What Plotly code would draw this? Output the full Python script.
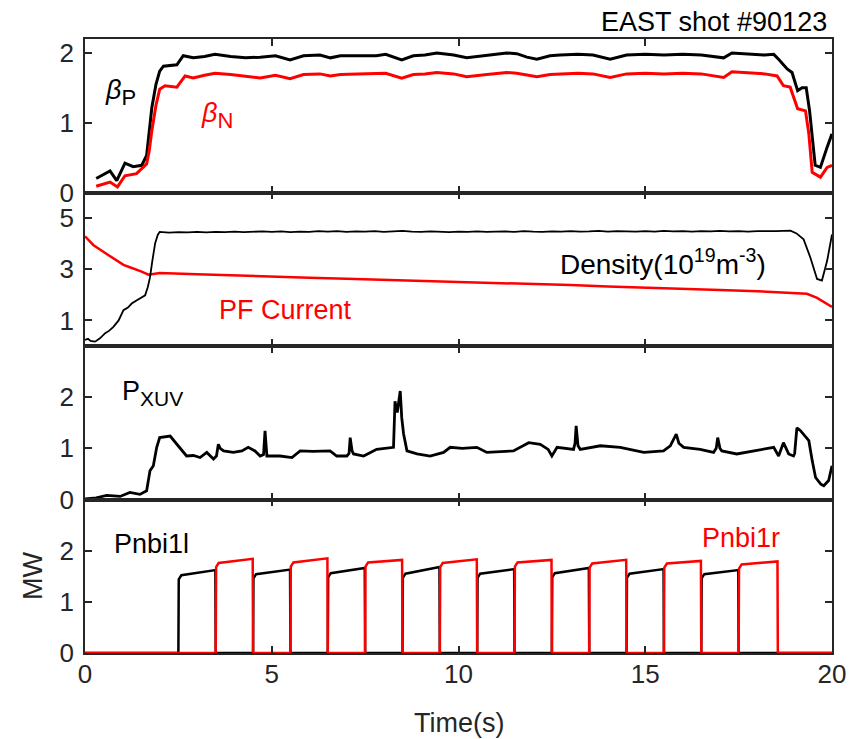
import plotly.graph_objects as go
from plotly.subplots import make_subplots

# ---------------- data ----------------
# poloidal beta (time s, value)
beta_p_pts = [
    (0.30, 0.20), (0.50, 0.26), (0.67, 0.31), (0.85, 0.17), (1.07, 0.42), (1.29, 0.37),
    (1.52, 0.39), (1.65, 0.53), (1.72, 0.85), (1.79, 1.22), (1.90, 1.55), (2.00, 1.74),
    (2.10, 1.81), (2.46, 1.83), (2.63, 1.96), (2.90, 1.93), (3.20, 1.95), (3.48, 1.98),
    (3.90, 1.95), (4.30, 1.93), (4.69, 1.94), (5.10, 1.96), (5.49, 1.90), (5.85, 1.96),
    (6.29, 1.97), (6.57, 1.93), (6.84, 1.96), (7.30, 1.96), (7.80, 1.96), (8.05, 1.98),
    (8.48, 1.90), (8.79, 1.96), (9.10, 1.97), (9.42, 2.00), (9.87, 1.97), (10.22, 1.93),
    (10.76, 1.96), (11.29, 2.00), (11.56, 1.99), (11.83, 1.94), (12.10, 1.91), (12.45, 1.96),
    (12.72, 1.97), (13.20, 1.98), (13.60, 1.97), (14.06, 1.91), (14.50, 1.97), (15.00, 1.98),
    (15.50, 1.97), (16.00, 1.98), (16.50, 1.97), (17.10, 1.93), (17.32, 2.00), (17.80, 1.98),
    (18.20, 1.97), (18.44, 1.98), (18.57, 1.91), (18.80, 1.77), (18.93, 1.72), (19.08, 1.46),
    (19.20, 1.50), (19.31, 1.50), (19.40, 1.17), (19.55, 0.39), (19.69, 0.36), (19.87, 0.65),
    (20.00, 0.84),
]
# normalized beta
beta_n_pts = [
    (0.30, 0.09), (0.50, 0.12), (0.67, 0.15), (0.87, 0.08), (1.07, 0.24), (1.38, 0.27),
    (1.65, 0.41), (1.72, 0.60), (1.79, 0.89), (1.90, 1.25), (2.00, 1.48), (2.14, 1.53),
    (2.46, 1.51), (2.68, 1.67), (2.90, 1.64), (3.20, 1.68), (3.48, 1.71), (3.90, 1.69),
    (4.30, 1.67), (4.69, 1.64), (5.10, 1.68), (5.49, 1.63), (5.85, 1.69), (6.29, 1.70),
    (6.57, 1.67), (6.84, 1.69), (7.30, 1.70), (7.80, 1.70), (8.05, 1.71), (8.48, 1.64),
    (8.79, 1.69), (9.10, 1.70), (9.42, 1.72), (9.87, 1.70), (10.22, 1.66), (10.76, 1.69),
    (11.29, 1.72), (11.56, 1.71), (11.83, 1.68), (12.10, 1.66), (12.45, 1.69), (12.72, 1.70),
    (13.20, 1.71), (13.60, 1.70), (14.06, 1.65), (14.50, 1.70), (15.00, 1.71), (15.50, 1.70),
    (16.00, 1.71), (16.50, 1.70), (17.10, 1.65), (17.32, 1.73), (17.80, 1.71), (18.20, 1.70),
    (18.53, 1.67), (18.70, 1.53), (18.88, 1.51), (19.08, 1.20), (19.29, 1.17), (19.38, 0.84),
    (19.47, 0.29), (19.69, 0.22), (19.87, 0.36), (20.00, 0.39),
]
# line-averaged density, 1e19 m^-3
density_pts = [
    (0.00, 0.24), (0.08, 0.28), (0.15, 0.20), (0.27, 0.17), (0.40, 0.30), (0.54, 0.50),
    (0.65, 0.60), (0.76, 0.75), (0.90, 1.00), (1.03, 1.40), (1.15, 1.50), (1.25, 1.66),
    (1.40, 1.80), (1.52, 1.91), (1.61, 1.98), (1.68, 2.30), (1.74, 2.68), (1.80, 3.30),
    (1.88, 4.03), (1.95, 4.35), (2.00, 4.46), (2.25, 4.43), (2.50, 4.45), (2.75, 4.44),
    (3.00, 4.46), (3.25, 4.44), (3.50, 4.46), (3.75, 4.45), (4.00, 4.47), (4.25, 4.45),
    (4.50, 4.46), (4.75, 4.48), (5.00, 4.46), (5.25, 4.48), (5.50, 4.45), (5.75, 4.47),
    (6.00, 4.46), (6.25, 4.49), (6.50, 4.47), (6.75, 4.49), (7.00, 4.46), (7.25, 4.48),
    (7.50, 4.47), (7.75, 4.49), (8.00, 4.46), (8.25, 4.48), (8.50, 4.50), (8.75, 4.47),
    (9.00, 4.46), (9.25, 4.48), (9.50, 4.47), (9.75, 4.45), (10.00, 4.47), (10.25, 4.46),
    (10.50, 4.48), (10.75, 4.46), (11.00, 4.47), (11.25, 4.48), (11.50, 4.46), (11.75, 4.49),
    (12.00, 4.47), (12.25, 4.46), (12.50, 4.48), (12.75, 4.47), (13.00, 4.49), (13.25, 4.47),
    (13.50, 4.48), (13.75, 4.50), (14.00, 4.47), (14.25, 4.49), (14.50, 4.48), (14.75, 4.47),
    (15.00, 4.49), (15.25, 4.47), (15.50, 4.50), (15.75, 4.48), (16.00, 4.49), (16.25, 4.47),
    (16.50, 4.49), (16.75, 4.48), (17.00, 4.50), (17.25, 4.48), (17.50, 4.49), (17.75, 4.47),
    (18.00, 4.49), (18.25, 4.48), (18.50, 4.49), (18.89, 4.51), (19.05, 4.40), (19.24, 4.17),
    (19.42, 3.46), (19.60, 2.62), (19.73, 2.56), (19.87, 3.33), (20.00, 4.36),
]
# poloidal field coil current (same axis)
pf_current_pts = [
    (0.00, 4.29), (0.22, 3.95), (0.45, 3.72), (0.67, 3.52), (0.85, 3.35), (1.03, 3.17),
    (1.20, 3.08), (1.34, 3.01), (1.50, 2.92), (1.70, 2.79), (1.85, 2.83), (2.00, 2.85),
    (3.00, 2.80), (4.00, 2.75), (5.00, 2.71), (6.00, 2.67), (7.00, 2.63), (8.00, 2.59),
    (9.00, 2.56), (10.00, 2.52), (11.00, 2.48), (12.00, 2.43), (13.00, 2.38), (14.00, 2.33),
    (15.00, 2.29), (16.00, 2.24), (17.00, 2.19), (18.00, 2.14), (19.00, 2.08), (19.33, 2.04),
    (19.60, 1.88), (19.80, 1.70), (20.00, 1.53),
]
# XUV radiated power, MW
pxuv_pts = [
    (0.00, 0.01), (0.30, 0.03), (0.58, 0.08), (0.94, 0.06), (1.20, 0.14), (1.47, 0.10),
    (1.65, 0.17), (1.74, 0.56), (1.83, 0.66), (1.92, 1.02), (2.00, 1.21), (2.28, 1.24),
    (2.46, 1.08), (2.60, 0.95), (2.72, 0.85), (2.90, 0.86), (3.08, 0.82), (3.26, 0.92),
    (3.44, 0.79), (3.52, 0.85), (3.57, 1.08), (3.62, 1.00), (3.71, 0.95), (3.97, 0.92),
    (4.20, 0.95), (4.37, 1.02), (4.55, 0.95), (4.69, 0.85), (4.78, 0.88), (4.82, 1.34),
    (4.87, 0.85), (5.22, 0.85), (5.54, 0.82), (5.76, 0.95), (6.10, 0.94), (6.56, 0.95),
    (6.74, 0.85), (7.01, 0.85), (7.07, 0.90), (7.10, 1.21), (7.15, 0.95), (7.19, 0.89),
    (7.46, 0.85), (7.81, 0.98), (8.05, 1.00), (8.26, 1.02), (8.30, 1.92), (8.36, 1.70),
    (8.44, 2.12), (8.48, 1.60), (8.53, 1.28), (8.62, 0.95), (8.89, 0.89), (9.24, 0.85),
    (9.60, 0.92), (9.78, 1.02), (10.10, 1.00), (10.49, 1.02), (10.76, 0.92), (11.10, 0.93),
    (11.47, 0.95), (11.88, 1.11), (12.19, 1.08), (12.40, 0.98), (12.50, 0.85), (12.64, 1.02),
    (13.08, 0.98), (13.12, 1.10), (13.15, 1.44), (13.20, 1.05), (13.26, 0.98), (13.80, 1.05),
    (14.33, 1.02), (14.96, 0.92), (15.49, 0.95), (15.67, 1.05), (15.83, 1.28), (15.90, 1.10),
    (16.03, 1.02), (16.47, 0.98), (16.83, 0.92), (16.90, 1.00), (16.94, 1.21), (17.00, 1.00),
    (17.05, 0.95), (17.45, 0.89), (17.90, 0.95), (18.20, 0.98), (18.44, 1.02), (18.57, 0.85),
    (18.70, 1.11), (18.84, 0.89), (18.97, 0.85), (19.00, 0.90), (19.06, 1.40), (19.15, 1.35),
    (19.24, 1.28), (19.38, 1.15), (19.47, 0.76), (19.56, 0.43), (19.70, 0.30), (19.78, 0.27),
    (19.91, 0.37), (20.00, 0.66),
]
# neutral beam pulses: on/off times (s) and power at pulse start / end (MW)
nbi_l_on = [2.5, 4.5, 6.5, 8.5, 10.5, 12.5, 14.5, 16.5]
nbi_l_off = [3.5, 5.5, 7.5, 9.5, 11.5, 13.5, 15.5, 17.5]
nbi_l_p0 = [1.52, 1.54, 1.56, 1.55, 1.55, 1.56, 1.55, 1.54]
nbi_l_p1 = [1.62, 1.63, 1.66, 1.68, 1.64, 1.66, 1.64, 1.62]

nbi_r_on = [3.5, 5.5, 7.5, 9.5, 11.5, 13.5, 15.5, 17.5]
nbi_r_off = [4.5, 6.5, 8.5, 10.5, 12.5, 14.5, 16.5, 18.55]
nbi_r_p0 = [1.76, 1.77, 1.77, 1.76, 1.77, 1.75, 1.75, 1.73]
nbi_r_p1 = [1.84, 1.85, 1.82, 1.83, 1.82, 1.82, 1.80, 1.79]

x_ticks = [0, 5, 10, 15, 20]


def unzip(pts):
    return [p[0] for p in pts], [p[1] for p in pts]


def pulse_train(on, off, p0, p1, t_end=20.0):
    """Square-ish beam waveform from switch times and power levels."""
    t, v = [0.0], [0.0]
    for a, b, s, e in zip(on, off, p0, p1):
        t += [a, a + 0.01, a + 0.08, b - 0.01, b]
        v += [0.0, s - 0.08, s, e, 0.0]
    t.append(t_end)
    v.append(0.0)
    return t, v


BLACK = "#000000"
RED = "#ff0000"
AXC = "#262626"
FONT = "Liberation Sans, Arial, sans-serif"

fig = make_subplots(rows=4, cols=1, shared_xaxes=True, vertical_spacing=0)

t, v = unzip(beta_p_pts)
fig.add_trace(go.Scatter(x=t, y=v, mode="lines", line=dict(color=BLACK, width=3)), row=1, col=1)
t, v = unzip(beta_n_pts)
fig.add_trace(go.Scatter(x=t, y=v, mode="lines", line=dict(color=RED, width=3)), row=1, col=1)

t, v = unzip(pf_current_pts)
fig.add_trace(go.Scatter(x=t, y=v, mode="lines", line=dict(color=RED, width=2.5)), row=2, col=1)
t, v = unzip(density_pts)
fig.add_trace(go.Scatter(x=t, y=v, mode="lines", line=dict(color=BLACK, width=1.8)), row=2, col=1)

t, v = unzip(pxuv_pts)
fig.add_trace(go.Scatter(x=t, y=v, mode="lines", line=dict(color=BLACK, width=2.8)), row=3, col=1)

t, v = pulse_train(nbi_l_on, nbi_l_off, nbi_l_p0, nbi_l_p1)
fig.add_trace(go.Scatter(x=t, y=v, mode="lines", line=dict(color=BLACK, width=2.5)), row=4, col=1)
t, v = pulse_train(nbi_r_on, nbi_r_off, nbi_r_p0, nbi_r_p1)
fig.add_trace(go.Scatter(x=t, y=v, mode="lines", line=dict(color=RED, width=2.5)), row=4, col=1)

axis_common = dict(
    showline=True, linecolor=AXC, linewidth=1.8, mirror="ticks",
    ticks="inside", ticklen=7, tickwidth=1.5, tickcolor=AXC,
    showgrid=False, zeroline=False,
    tickfont=dict(family=FONT, size=26, color=AXC),
)
for r in range(1, 5):
    fig.update_xaxes(range=[0, 20], tickvals=x_ticks, showticklabels=(r == 4),
                     ticklabelstandoff=-3, **axis_common, row=r, col=1)

fig.update_yaxes(range=[0, 2.2], tickvals=[0, 1, 2], ticklabelstandoff=4, **axis_common, row=1, col=1)
fig.update_yaxes(range=[0, 6], tickvals=[1, 3, 5], ticklabelstandoff=4, **axis_common, row=2, col=1)
fig.update_yaxes(range=[0, 3], tickvals=[0, 1, 2], ticklabelstandoff=4, **axis_common, row=3, col=1)
fig.update_yaxes(range=[0, 3], tickvals=[0, 1, 2], ticklabelstandoff=4, **axis_common, row=4, col=1)

ann_font = dict(family=FONT, size=27)
annotations = [
    dict(xref="x", yref="y", x=0.94, y=1.43,
         text="<i>β</i><sub><span style='font-size:22px'>P</span></sub>",
         font=dict(ann_font, color=BLACK)),
    dict(xref="x", yref="y", x=3.54, y=1.10,
         text="<i>β</i><sub><span style='font-size:22px'>N</span></sub>",
         font=dict(ann_font, color=RED)),
    dict(xref="x2", yref="y2", x=15.48, y=3.29, text="Density(10<sup>19</sup>m<sup>-3</sup>)",
         font=dict(family=FONT, size=28, color=BLACK)),
    dict(xref="x2", yref="y2", x=5.36, y=1.40, text="PF Current",
         font=dict(ann_font, color=RED)),
    dict(xref="x3", yref="y3", x=1.80, y=2.08,
         text="P<sub><span style='font-size:21px'>XUV</span></sub>",
         font=dict(ann_font, color=BLACK)),
    dict(xref="x4", yref="y4", x=1.77, y=2.14, text="Pnbi1l",
         font=dict(ann_font, color=BLACK)),
    dict(xref="x4", yref="y4", x=17.57, y=2.24, text="Pnbi1r",
         font=dict(ann_font, color=RED)),
    dict(xref="paper", yref="paper", x=1, y=1, xanchor="right", yanchor="bottom",
         xshift=-3, text="EAST shot #90123", font=dict(ann_font, color=BLACK)),
    # axis titles
    dict(xref="paper", yref="paper", x=0.5, y=-0.114, xanchor="center", yanchor="middle",
         text="Time(s)", font=dict(family=FONT, size=27, color=AXC)),
    dict(xref="paper", yref="paper", x=-0.0696, y=0.1254, xanchor="center", yanchor="middle",
         textangle=-90, text="MW", font=dict(family=FONT, size=27, color=AXC)),
]
for a in annotations:
    a["showarrow"] = False

fig.update_layout(
    width=860, height=739,
    margin=dict(l=85, r=28, t=39, b=86),
    paper_bgcolor="white", plot_bgcolor="white",
    showlegend=False,
    annotations=annotations,
    font=dict(family=FONT, color=AXC),
)

fig.write_html("out.html")
